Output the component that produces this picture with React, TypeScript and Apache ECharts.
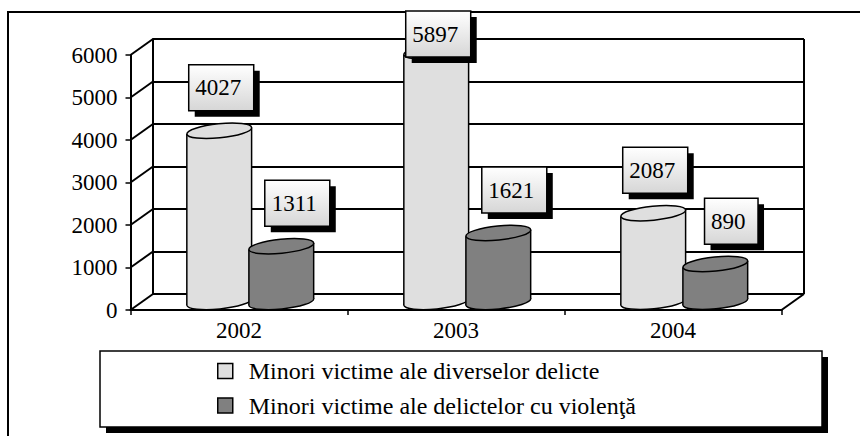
import React, { useEffect, useRef } from 'react';
import * as echarts from 'echarts';

const categories = ['2002', '2003', '2004'];
const seriesNames = [
  'Minori victime ale diverselor delicte',
  'Minori victime ale delictelor cu violenţă',
];
const diverseValues = [4027, 5897, 2087];
const violentValues = [1311, 1621, 890];
const yTickValues = [0, 1000, 2000, 3000, 4000, 5000, 6000];

const FONT = 'Liberation Serif';
const DX = 22.5;
const DY = -16;
const FRONT = { left: 130.5, top: 55, width: 651, height: 255 };
const BACK = { left: FRONT.left + DX, top: FRONT.top + DY, width: 651, height: 255 };
const LIGHT = '#dfdfdf';
const DARK = '#808080';
const TILT = 0.1;
const FRAME_TOP = 12;

function cylinderRenderer(offsetFactor: number, color: string) {
  return (params: any, api: any) => {
    const ci = api.value(0);
    const v = api.value(1);
    const top = api.coord([ci, v]);
    const base = api.coord([ci, 0]);
    const band = api.size([1, 0])[0];
    const rx = band * 0.15;
    const ry = 7;
    const cx = top[0] + DX / 2 + band * offsetFactor;
    const ty = top[1] + DY / 2;
    const by = base[1] + DY / 2;
    const c = rx * Math.cos(TILT);
    const s = rx * Math.sin(TILT);
    const stroke = { stroke: '#000', lineWidth: 1.5 };
    return {
      type: 'group',
      children: [
        { type: 'ellipse', shape: { cx, cy: by, rx, ry }, rotation: TILT, originX: cx, originY: by, style: { fill: color, ...stroke } },
        { type: 'polygon', shape: { points: [[cx - c, ty + s], [cx + c, ty - s], [cx + c, by - s], [cx - c, by + s]] }, style: { fill: color } },
        { type: 'line', shape: { x1: cx - c, y1: ty + s, x2: cx - c, y2: by + s }, style: stroke },
        { type: 'line', shape: { x1: cx + c, y1: ty - s, x2: cx + c, y2: by - s }, style: stroke },
        { type: 'ellipse', shape: { cx, cy: ty, rx, ry }, rotation: TILT, originX: cx, originY: ty, style: { fill: color, ...stroke } },
      ],
    };
  };
}

function labelRenderer(offsetFactor: number, labelDx: number) {
  return (params: any, api: any) => {
    const ci = api.value(0);
    const v = api.value(1);
    const top = api.coord([ci, v]);
    const band = api.size([1, 0])[0];
    const cx = top[0] + DX / 2 + band * offsetFactor + labelDx;
    const text = String(v);
    const w = text.length * 11.5 + 19;
    const h = 46;
    let y = top[1] + DY / 2 - 43 - h / 2;
    y = Math.max(y, FRAME_TOP - 1);
    const x = cx - w / 2;
    return {
      type: 'group',
      children: [
        { type: 'rect', shape: { x: x + 6, y: y + 6, width: w, height: h }, style: { fill: '#000' } },
        {
          type: 'rect',
          shape: { x, y, width: w, height: h },
          style: {
            fill: new echarts.graphic.LinearGradient(0, 0, 0, 1, [
              { offset: 0, color: '#ffffff' },
              { offset: 1, color: '#d6d6d6' },
            ]),
            stroke: '#000',
            lineWidth: 1.5,
          },
        },
        {
          type: 'text',
          x: x + w / 2 - 3,
          y: y + h / 2,
          style: { text, fontSize: 23, fontFamily: FONT, fill: '#000', align: 'center', verticalAlign: 'middle' },
        },
      ],
    };
  };
}

function frameRenderer(params: any, api: any) {
  const cs = params.coordSys;
  const y = api.coord([0, api.value(1)])[1];
  const ls = { stroke: '#000', lineWidth: 2 };
  const children: any[] = [
    { type: 'line', shape: { x1: cs.x, y1: y, x2: cs.x + DX, y2: y + DY }, style: ls },
  ];
  if (params.dataIndex === 0) {
    const rx = cs.x + cs.width;
    const by = cs.y + cs.height;
    children.push({ type: 'line', shape: { x1: rx, y1: by, x2: rx + DX, y2: by + DY }, style: ls });
    children.push({ type: 'line', shape: { x1: rx + DX, y1: by + DY, x2: rx + DX, y2: cs.y + DY }, style: ls });
  }
  return { type: 'group', children };
}

export default function App() {
  const ref = useRef<HTMLDivElement>(null);
  useEffect(() => {
    if (!ref.current) return;
    const chart = echarts.init(ref.current, undefined, { renderer: 'svg' });
    const toData = (arr: number[]) => arr.map((v, i) => [i, v]);
    const axisText = { fontSize: 23, fontFamily: FONT, color: '#000' };
    chart.setOption({
      animation: false,
      backgroundColor: '#fff',
      textStyle: { fontFamily: FONT },
      grid: [
        { left: BACK.left, top: BACK.top, width: BACK.width, height: BACK.height },
        { left: FRONT.left, top: FRONT.top, width: FRONT.width, height: FRONT.height },
      ],
      xAxis: [
        { gridIndex: 0, type: 'category', data: categories, show: false },
        {
          gridIndex: 1,
          type: 'category',
          data: categories,
          axisLine: { show: true, lineStyle: { color: '#000', width: 2 } },
          axisTick: { show: true, length: 5, lineStyle: { color: '#000', width: 1.5 } },
          axisLabel: { ...axisText, margin: 9 },
          splitLine: { show: false },
        },
      ],
      yAxis: [
        {
          gridIndex: 0,
          type: 'value',
          min: 0,
          max: 6000,
          interval: 1000,
          axisLine: { show: true, lineStyle: { color: '#000', width: 2 } },
          axisTick: { show: false },
          axisLabel: { show: false },
          splitLine: { show: true, lineStyle: { color: '#000', width: 2 } },
        },
        {
          gridIndex: 1,
          type: 'value',
          min: 0,
          max: 6000,
          interval: 1000,
          axisLine: { show: true, lineStyle: { color: '#000', width: 2 } },
          axisTick: { show: true, length: 5, lineStyle: { color: '#000', width: 1.5 } },
          axisLabel: { ...axisText, margin: 13, formatter: (v: number) => String(v) },
          splitLine: { show: false },
        },
      ],
      legend: {
        orient: 'vertical',
        left: 212,
        top: 354,
        padding: 5,
        itemWidth: 15,
        itemHeight: 15,
        itemGap: 10.5,
        icon: 'rect',
        selectedMode: false,
        textStyle: { fontSize: 24, fontFamily: FONT, color: '#000', padding: [0, 0, 0, 11], lineHeight: 24 },
        data: [
          { name: seriesNames[0], itemStyle: { color: LIGHT, borderColor: '#000', borderWidth: 1.5 } },
          { name: seriesNames[1], itemStyle: { color: DARK, borderColor: '#000', borderWidth: 1.5 } },
        ],
      },
      graphic: [
        { type: 'rect', shape: { x: 8, y: FRAME_TOP, width: 1000, height: 1000 }, style: { fill: 'none', stroke: '#000', lineWidth: 2 }, z: 0 },
        { type: 'rect', shape: { x: 106, y: 357, width: 722, height: 76 }, style: { fill: '#000' }, z: 0 },
        { type: 'rect', shape: { x: 100, y: 351, width: 722, height: 76 }, style: { fill: '#fff', stroke: '#000', lineWidth: 1.5 }, z: 0 },
      ],
      series: [
        {
          type: 'custom',
          name: 'frame',
          xAxisIndex: 1,
          yAxisIndex: 1,
          z: 1,
          silent: true,
          renderItem: frameRenderer,
          data: yTickValues.map((v) => [0, v]),
        },
        {
          type: 'custom',
          name: seriesNames[0],
          xAxisIndex: 1,
          yAxisIndex: 1,
          z: 2,
          itemStyle: { color: LIGHT },
          renderItem: cylinderRenderer(-0.143, LIGHT),
          data: toData(diverseValues),
        },
        {
          type: 'custom',
          name: seriesNames[1],
          xAxisIndex: 1,
          yAxisIndex: 1,
          z: 2,
          itemStyle: { color: DARK },
          renderItem: cylinderRenderer(0.143, DARK),
          data: toData(violentValues),
        },
        {
          type: 'custom',
          name: 'labels-diverse',
          xAxisIndex: 1,
          yAxisIndex: 1,
          z: 5,
          renderItem: labelRenderer(-0.143, 2),
          data: toData(diverseValues),
        },
        {
          type: 'custom',
          name: 'labels-violent',
          xAxisIndex: 1,
          yAxisIndex: 1,
          z: 5,
          renderItem: labelRenderer(0.143, 16),
          data: toData(violentValues),
        },
      ],
    });
    return () => chart.dispose();
  }, []);
  return <div ref={ref} style={{ position: 'absolute', left: 0, top: 0, width: 860, height: 436 }} />;
}
